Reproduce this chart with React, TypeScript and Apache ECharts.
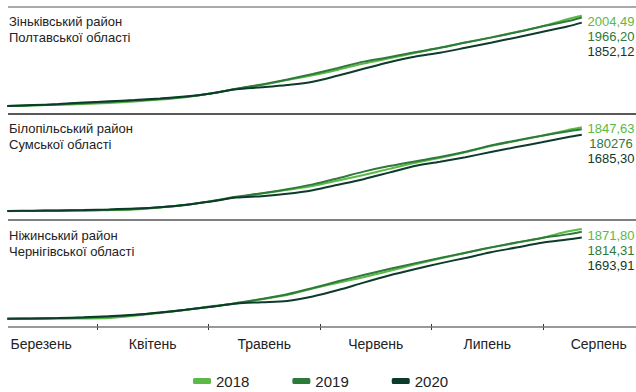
import React, { useEffect, useRef } from "react";
import * as echarts from "echarts";

// Month categories on the bottom axis
const months = ["Березень", "Квітень", "Травень", "Червень", "Липень", "Серпень"];
const years = ["2018", "2019", "2020"];
const colors = ["#5cb847", "#2d7a3a", "#0d3b2b"];

// Day since 1 March of each observation
const days = [6, 13, 20, 27, 34, 41, 48, 55, 62, 69, 76, 83, 90, 97, 104, 111, 118, 125, 132, 139, 146, 153, 160, 164];

// Panel titles
const regionNames = [
  ["Зіньківський район", "Полтавської області"],
  ["Білопільський район", "Сумської області"],
  ["Ніжинський район", "Чернігівської області"],
];

// Final values shown at the right
const finalLabels = [
  ["2004,49", "1966,20", "1852,12"],
  ["1847,63", "180276", "1685,30"],
  ["1871,80", "1814,31", "1693,91"],
];

// Зіньківський район
const zinkiv2018 = [11, 24, 38, 55, 77, 110, 152, 205, 285, 386, 477, 585, 689, 813, 949, 1064, 1179, 1298, 1413, 1526, 1645, 1769, 1928, 2004.49];
const zinkiv2019 = [11, 26, 46, 73, 99, 130, 166, 216, 289, 393, 486, 596, 718, 850, 991, 1089, 1199, 1296, 1411, 1521, 1638, 1766, 1881, 1966.2];
const zinkiv2020 = [11, 31, 53, 86, 115, 144, 177, 219, 287, 380, 424, 475, 548, 684, 832, 978, 1100, 1186, 1296, 1409, 1524, 1645, 1766, 1852.12];

// Білопільський район
const bilopillia2018 = [8, 12, 17, 24, 30, 46, 88, 143, 222, 318, 393, 476, 559, 678, 801, 935, 1064, 1178, 1299, 1437, 1549, 1659, 1784, 1847.63];
const bilopillia2019 = [11, 13, 18, 24, 37, 57, 94, 147, 226, 323, 402, 489, 595, 731, 875, 996, 1099, 1196, 1312, 1448, 1560, 1663, 1757, 1802.76];
const bilopillia2020 = [11, 18, 24, 33, 46, 64, 94, 145, 219, 305, 336, 388, 467, 586, 709, 853, 998, 1090, 1192, 1305, 1413, 1518, 1630, 1685.3];

// Ніжинський район
const nizhyn2018 = [10, 11, 12, 15, 25, 71, 129, 191, 268, 328, 415, 502, 635, 757, 872, 1000, 1135, 1260, 1374, 1486, 1585, 1687, 1818, 1871.8];
const nizhyn2019 = [10, 12, 19, 29, 54, 89, 139, 197, 259, 336, 419, 517, 647, 786, 917, 1042, 1158, 1268, 1380, 1490, 1592, 1687, 1760, 1814.31];
const nizhyn2020 = [10, 15, 25, 39, 60, 91, 141, 195, 257, 328, 353, 380, 473, 606, 759, 905, 1035, 1158, 1272, 1388, 1486, 1585, 1654, 1693.91];

const panels = [
  [zinkiv2018, zinkiv2019, zinkiv2020],
  [bilopillia2018, bilopillia2019, bilopillia2020],
  [nizhyn2018, nizhyn2019, nizhyn2020],
];

const FONT = "'Liberation Sans', Arial, Helvetica, sans-serif";

export default function App() {
  const ref = useRef<HTMLDivElement>(null);

  useEffect(() => {
    if (!ref.current) return;
    const chart = echarts.init(ref.current, undefined, { renderer: "svg" });

    const gridTops = [6.5, 111.5, 219.2];
    const yMaxes = [2208, 2194, 2075];
    const grids = gridTops.map((top) => ({
      left: -14.5,
      right: -18.5,
      top,
      height: 100,
      containLabel: false,
      outerBoundsMode: "none",
    }));

    const xAxes: any[] = gridTops.map((_, i) => ({
      type: "value",
      gridIndex: i,
      min: 0,
      max: 184,
      show: false,
    }));
    xAxes.push({
      type: "category",
      gridIndex: 2,
      data: months,
      position: "bottom",
      offset: 4.8,
      boundaryGap: true,
      axisLine: { show: false },
      axisTick: { show: true, length: 6, interval: 0, lineStyle: { color: "#333", width: 1 } },
      axisLabel: { interval: 0, margin: 13, fontSize: 14, color: "#222", fontFamily: FONT },
      splitLine: { show: false },
    });

    const yAxes = gridTops.map((_, i) => ({
      type: "value",
      gridIndex: i,
      min: 0,
      max: yMaxes[i],
      show: false,
      splitLine: { show: false },
    }));

    const series: any[] = [];
    panels.forEach((panel, p) => {
      panel.forEach((vals, s) => {
        series.push({
          type: "line",
          name: years[s],
          xAxisIndex: p,
          yAxisIndex: p,
          data: vals.map((v, k) => [days[k], v]),
          showSymbol: false,
          symbol: "none",
          smooth: 0.3,
          color: colors[s],
          lineStyle: { width: 2, color: colors[s] },
          itemStyle: { color: colors[s] },
          z: 2 + s,
        });
      });
    });

    const graphic: any[] = [];
    const sepY = [7, 114, 220, 327];
    const sepColors = ["#8c8c8c", "#222222", "#555555", "#777777"];
    sepY.forEach((y, i) => {
      graphic.push({
        type: "line",
        shape: { x1: 8, y1: y, x2: 636, y2: y },
        style: { stroke: sepColors[i], lineWidth: 1.5 },
        z: 1,
      });
    });
    const titleY = [21, 128, 235];
    regionNames.forEach((lines, p) => {
      lines.forEach((t, l) => {
        graphic.push({
          type: "text",
          x: 9,
          y: titleY[p] + l * 16,
          style: {
            text: t,
            fill: "#222",
            font: `13px ${FONT}`,
            textVerticalAlign: "middle",
            verticalAlign: "middle",
          },
        });
      });
      finalLabels[p].forEach((t, s) => {
        graphic.push({
          type: "text",
          x: 611,
          y: titleY[p] + s * 15,
          style: {
            text: t,
            fill: colors[s],
            font: `13px ${FONT}`,
            textAlign: "center",
            align: "center",
            verticalAlign: "middle",
            textVerticalAlign: "middle",
          },
        });
      });
    });

    chart.setOption({
      animation: false,
      backgroundColor: "#ffffff",
      grid: grids,
      xAxis: xAxes,
      yAxis: yAxes,
      series,
      legend: {
        data: years,
        left: 193,
        top: 373.5,
        padding: 0,
        icon: "roundRect",
        itemWidth: 18,
        itemHeight: 6,
        itemGap: 43,
        textStyle: { fontSize: 15, color: "#222", fontFamily: FONT },
      },
      graphic,
    });

    return () => chart.dispose();
  }, []);

  return (
    <div
      ref={ref}
      style={{ position: "absolute", left: 0, top: 0, width: 636, height: 392 }}
    />
  );
}
